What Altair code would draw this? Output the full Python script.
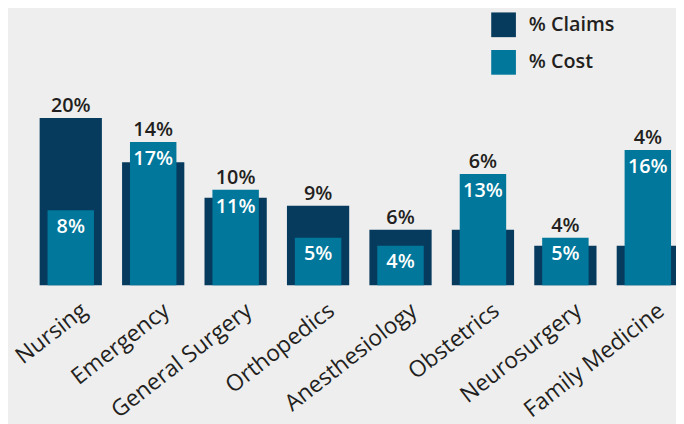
import altair as alt
import pandas as pd

categories = ["Nursing", "Emergency", "General Surgery", "Orthopedics",
              "Anesthesiology", "Obstetrics", "Neurosurgery", "Family Medicine"]
claims = [20.0, 14.45, 10.0, 9.0, 6.0, 6.0, 4.0, 4.0]
cost = [8.45, 17.0, 11.0, 5.0, 4.0, 13.0, 5.0, 16.0]

NAVY = "#073b5e"
TEAL = "#00779b"
BG = "#eeeeee"
INK = "#231f20"
FONT = "Open Sans"
BASE = -0.96

df = pd.DataFrame({
    "cat": categories,
    "claims": claims,
    "cost": cost,
})
df["top"] = df[["claims", "cost"]].max(axis=1)
df["claims_lbl"] = [f"{v:.0f}%" for v in df["claims"]]
df["cost_lbl"] = [f"{v:.0f}%" for v in df["cost"]]
df["s_claims"] = "% Claims"
df["s_cost"] = "% Cost"

xs = alt.Scale(domain=categories, range=[21.8, 689.2], paddingInner=0, paddingOuter=0)
ys = alt.Scale(domain=[BASE, 33.5], zero=False, nice=False)
cs = alt.Scale(domain=["% Claims", "% Cost"], range=[NAVY, TEAL])

x_enc = alt.X("cat:N", scale=xs, sort=categories, title=None,
              axis=alt.Axis(labelAngle=-38, labelAlign="right", labelBaseline="top",
                            labelFont=FONT, labelFontSize=23, labelColor=INK,
                            labelPadding=14, labelOffset=7, domain=False, ticks=False,
                            labelOverlap=False, labelLimit=400))

base = alt.Chart(df)

bar_claims = base.mark_bar(size=63).encode(
    x=x_enc,
    y=alt.Y("claims:Q", scale=ys, axis=None),
    y2=alt.datum(BASE),
    color=alt.Color("s_claims:N", scale=cs, title=None,
                    legend=alt.Legend(orient="none", legendX=489, legendY=2,
                                      symbolType="square", symbolSize=625,
                                      symbolStrokeWidth=0, symbolOpacity=1,
                                      labelFont=FONT, labelFontSize=20,
                                      labelFontWeight=600, labelColor=INK,
                                      labelOffset=13, rowPadding=13, padding=0)),
)
bar_cost = base.mark_bar(size=47).encode(
    x=x_enc,
    y=alt.Y("cost:Q", scale=ys, axis=None),
    y2=alt.datum(BASE),
    color=alt.Color("s_cost:N", scale=cs, title=None),
)
lbl_claims = base.mark_text(font=FONT, fontSize=20, fontWeight=600, color=INK,
                            baseline="alphabetic", dy=-6).encode(
    x=x_enc, y=alt.Y("top:Q", scale=ys), text="claims_lbl:N")
lbl_cost = base.mark_text(font=FONT, fontSize=20, fontWeight=600, color="white",
                          baseline="alphabetic", dy=23).encode(
    x=x_enc, y=alt.Y("cost:Q", scale=ys), text="cost_lbl:N")

chart = alt.layer(bar_claims, bar_cost, lbl_claims, lbl_cost).properties(
    width=676, height=278,
    autosize=alt.AutoSizeParams(type="none"),
    padding={"left": 0, "top": 0, "right": 0, "bottom": 140},
    background=BG,
).configure_view(stroke=None).configure_legend(padding=0)

chart.save("out.html", embed_options={"renderer": "svg", "actions": False})
